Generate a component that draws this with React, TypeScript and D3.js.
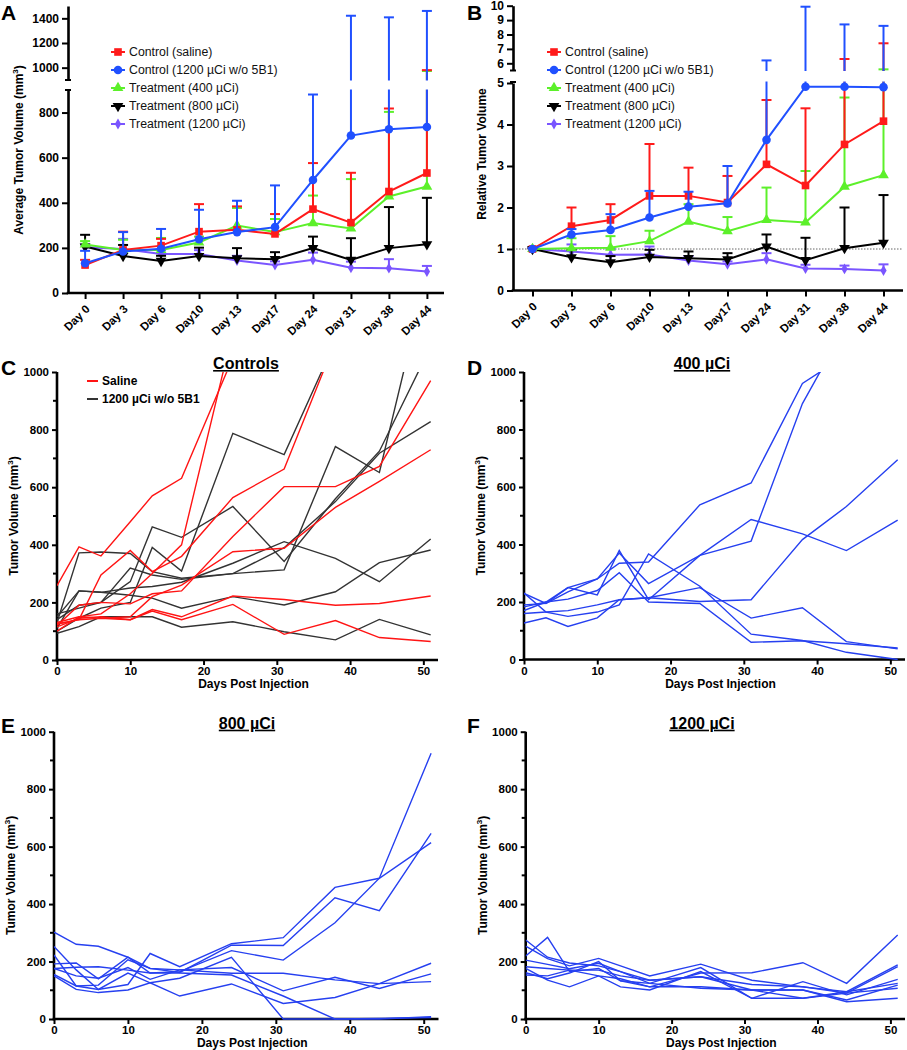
import { useEffect, useRef } from 'react';
import * as d3 from 'd3';

const FONT = "'Liberation Sans', Arial, Helvetica, sans-serif";

const days = ['Day 0', 'Day 3', 'Day 6', 'Day10', 'Day 13', 'Day17', 'Day 24', 'Day 31', 'Day 38', 'Day 44'];
const groupNames = ['Control (saline)', 'Control (1200 µCi w/o 5B1)', 'Treatment (400 µCi)', 'Treatment (800 µCi)', 'Treatment (1200 µCi)'];

// A: average tumour volume (mm3), mean and top of the error bar
const avgSaline = [124, 191, 210, 272, 280, 262, 372, 312, 450, 532];
const avgSalineTop = [147, 272, 240, 394, 384, 350, 576, 533, 818, 980];
const avgNoAb = [132, 184, 196, 238, 270, 292, 501, 698, 726, 736];
const avgNoAbTop = [187, 270, 284, 369, 409, 477, 880, 1421, 1408, 1460];
const avg400 = [215, 191, 191, 224, 299, 270, 310, 286, 428, 472];
const avg400Top = [230, 236, 244, 250, 377, 328, 432, 505, 803, 973];
const avg800 = [206, 164, 142, 164, 154, 150, 199, 147, 199, 216];
const avg800Top = [258, 213, 165, 201, 199, 181, 250, 243, 381, 422];
const avg1200 = [203, 195, 173, 173, 144, 124, 147, 112, 110, 95];
const avg1200Top = [215, 240, 190, 190, 165, 140, 179, 139, 150, 120];

// B: relative tumour volume
const relSaline = [1, 1.55, 1.7, 2.28, 2.28, 2.12, 3.04, 2.53, 3.52, 4.08];
const relSalineTop = [1.02, 2.0, 2.08, 3.53, 2.96, 2.76, 4.59, 4.39, 6.3, 7.39];
const relNoAb = [1, 1.35, 1.46, 1.76, 2.02, 2.1, 3.63, 4.91, 4.91, 4.9];
const relNoAbTop = [1.02, 1.48, 1.84, 2.4, 2.38, 3.0, 6.2, 9.93, 8.7, 8.6];
const rel400 = [1, 1.02, 1.03, 1.19, 1.66, 1.43, 1.7, 1.64, 2.5, 2.78];
const rel400Top = [1.02, 1.26, 1.31, 1.44, 2.08, 1.77, 2.48, 2.88, 4.65, 5.58];
const rel800 = [1, 0.8, 0.68, 0.81, 0.78, 0.75, 1.06, 0.73, 1.02, 1.15];
const rel800Top = [1.02, 0.98, 0.83, 0.98, 0.94, 0.9, 1.35, 1.27, 2.0, 2.3];
const rel1200 = [1, 0.94, 0.86, 0.87, 0.72, 0.63, 0.75, 0.53, 0.52, 0.48];
const rel1200Top = [1.02, 1.11, 1.0, 1.06, 0.83, 0.7, 0.9, 0.62, 0.6, 0.63];

// C-F: individual animals
const studyDays = [0, 3, 6, 10, 13, 17, 24, 31, 38, 44, 51];

const salineMice = [
  [258, 393, 361, 480, 570, 631, 1050],
  [100, 150, 160, 230, 300, 400, 1140],
  [125, 140, 295, 380, 307, 360, 564, 663, 1107],
  [120, 190, 200, 195, 230, 240, 429, 602, 602, 672, 970],
  [130, 150, 145, 150, 220, 260, 376, 388, 530, 620, 730],
  [115, 145, 150, 140, 175, 150, 222, 210, 190, 196, 222],
  [125, 140, 145, 140, 170, 140, 193, 89, 137, 78, 64],
];
const noAbMice = [
  [130, 372, 375, 370, 307, 284, 300, 313, 741, 651, 1391],
  [160, 180, 200, 272, 462, 426, 533, 342, 560, 725, 1088],
  [110, 240, 235, 250, 255, 270, 336, 411, 353, 272, 420],
  [140, 190, 200, 319, 295, 280, 300, 390, 550, 718, 828],
  [100, 145, 180, 200, 391, 309, 787, 713, 1107],
  [150, 240, 235, 225, 215, 180, 220, 191, 237, 338, 382],
  [93, 116, 150, 150, 150, 114, 133, 98, 70, 141, 87],
];
const mice400 = [
  [190, 195, 250, 280, 370, 264, 362, 412, 890, 1165],
  [230, 195, 235, 280, 335, 339, 538, 614, 960, 1060],
  [160, 165, 170, 190, 208, 215, 202, 208, 417, 532, 695],
  [183, 200, 250, 225, 379, 208, 362, 487, 437, 379, 485],
  [127, 145, 115, 145, 208, 215, 250, 144, 180, 62, 37],
  [231, 165, 150, 165, 190, 367, 255, 88, 66, 25, 0],
  [170, 200, 210, 240, 302, 200, 195, 60, 65, 55, 40],
];
const mice800 = [
  [192, 195, 140, 215, 160, 165, 238, 205, 335, 490, 925],
  [223, 115, 118, 206, 176, 162, 257, 256, 422, 377, 646],
  [252, 171, 103, 120, 228, 182, 262, 283, 458, 490, 614],
  [150, 103, 92, 101, 126, 80, 122, 54, 75, 123, 194],
  [176, 150, 142, 179, 138, 171, 179, 98, 145, 106, 157],
  [302, 260, 253, 215, 176, 171, 159, 159, 136, 123, 130],
  [155, 115, 103, 160, 126, 142, 215, 0, 0, 0, 8],
  [176, 180, 182, 170, 160, 160, 153, 80, 0, 2, 5],
];
const mice1200 = [
  [219, 284, 165, 176, 133, 112, 160, 161, 196, 124, 292],
  [275, 215, 195, 185, 165, 135, 147, 101, 101, 60, 72],
  [254, 210, 185, 211, 185, 150, 191, 135, 112, 95, 188],
  [205, 190, 175, 194, 165, 124, 179, 72, 72, 90, 182],
  [182, 176, 170, 150, 140, 112, 112, 101, 101, 66, 118],
  [176, 135, 112, 150, 112, 101, 165, 72, 130, 84, 138],
  [161, 140, 160, 200, 133, 124, 107, 101, 72, 95, 124],
  [153, 150, 170, 170, 150, 135, 147, 120, 112, 90, 107],
];

const RED = '#ff1a1a';
const BLUE = '#2050ff';
const GREEN = '#5cf02a';
const PURPLE = '#7a55ff';
const LINE_BLUE = '#2640f0';

const symbols = [
  { type: d3.symbolSquare, size: 58, rot: 0 },
  { type: d3.symbolCircle, size: 58, rot: 0 },
  { type: d3.symbolTriangle, size: 50, rot: 0 },
  { type: d3.symbolTriangle, size: 50, rot: 180 },
  { type: d3.symbolDiamond, size: 34, rot: 0 },
];
const groupColors = [RED, BLUE, GREEN, '#000', PURPLE];

function styleAxis(g: any, size: number) {
  g.select('.domain').attr('stroke', '#000').attr('stroke-width', 2.6);
  g.selectAll('.tick line').attr('stroke', '#000').attr('stroke-width', 2);
  g.selectAll('.tick text')
    .attr('font-family', FONT)
    .attr('font-weight', 'bold')
    .attr('font-size', size)
    .attr('fill', '#000');
}

function panelLetter(svg: any, letter: string, x: number, y: number) {
  svg.append('text')
    .attr('x', x).attr('y', y)
    .attr('font-family', FONT).attr('font-weight', 'bold').attr('font-size', 21)
    .text(letter);
}

function yTitle(svg: any, x: number, y: number, text: string, sup: boolean) {
  const t = svg.append('text')
    .attr('transform', `translate(${x},${y}) rotate(-90)`)
    .attr('text-anchor', 'middle')
    .attr('font-family', FONT).attr('font-weight', 'bold').attr('font-size', 12);
  t.append('tspan').text(text);
  if (sup) {
    t.append('tspan').attr('font-size', 8).attr('dy', -5).text('3');
    t.append('tspan').attr('dy', 5).text(')');
  }
}

function drawMeanPanel(svg: any, cfg: any) {
  const { x, yLo, yHi, series, breakY, dotted } = cfg;
  const y = (v: number) => (v <= yLo.domain()[1] ? yLo(v) : yHi(v));
  const g = svg.append('g');

  if (dotted) {
    g.append('line')
      .attr('x1', x.range()[0]).attr('x2', x.range()[1])
      .attr('y1', yLo(1)).attr('y2', yLo(1))
      .attr('stroke', '#555').attr('stroke-width', 0.9).attr('stroke-dasharray', '1.5,1.5');
  }

  // back to front: 1200, 800, 400, saline, no-antibody
  [4, 3, 2, 0, 1].forEach(i => {
    const s = series[i];
    const col = groupColors[i];
    const sg = g.append('g');
    days.forEach((d, k) => {
      const px = x(d);
      sg.append('line')
        .attr('x1', px).attr('x2', px)
        .attr('y1', y(s.values[k])).attr('y2', y(s.tops[k]))
        .attr('stroke', col).attr('stroke-width', 2);
      sg.append('line')
        .attr('x1', px - 5).attr('x2', px + 5)
        .attr('y1', y(s.tops[k])).attr('y2', y(s.tops[k]))
        .attr('stroke', col).attr('stroke-width', 2);
    });
    const line = d3.line<number>().x((_, k) => x(days[k])).y(v => y(v));
    sg.append('path').datum(s.values)
      .attr('fill', 'none').attr('stroke', col).attr('stroke-width', 2).attr('d', line);
    const sym = symbols[i];
    sg.selectAll('path.m').data(s.values).join('path')
      .attr('class', 'm')
      .attr('d', d3.symbol().type(sym.type).size(sym.size))
      .attr('transform', (v: number, k: number) => `translate(${x(days[k])},${y(v)}) rotate(${sym.rot})`)
      .attr('fill', col);
  });

  // axis break
  g.append('rect')
    .attr('x', x.range()[0] - 10).attr('width', x.range()[1] - x.range()[0] + 20)
    .attr('y', breakY[0] + 0.5).attr('height', breakY[1] - breakY[0] - 1)
    .attr('fill', '#fff');

  const x0 = x.range()[0];
  const axLo = svg.append('g').attr('transform', `translate(${x0},0)`)
    .call(d3.axisLeft(yLo).tickValues(cfg.loTicks).tickSize(6).tickSizeOuter(0).tickPadding(3).tickFormat(d3.format('d')));
  styleAxis(axLo, 12);
  const axHi = svg.append('g').attr('transform', `translate(${x0},0)`)
    .call(d3.axisLeft(yHi).tickValues(cfg.hiTicks).tickSize(6).tickSizeOuter(0).tickPadding(3).tickFormat(d3.format('d')));
  styleAxis(axHi, 12);
  [breakY[0], breakY[1]].forEach(by => {
    svg.append('line').attr('x1', x0 - 3).attr('x2', x0 + 3).attr('y1', by).attr('y2', by)
      .attr('stroke', '#000').attr('stroke-width', 2);
  });

  const axX = svg.append('g').attr('transform', `translate(0,${yLo(0)})`)
    .call(d3.axisBottom(x).tickSize(6).tickSizeOuter(0));
  styleAxis(axX, 11.5);
  axX.select('.domain').attr('d', `M${x0 - 1.3},0H${x.range()[1]}`);
  axX.selectAll('.tick text')
    .attr('x', 0).attr('y', 0).attr('dy', '0.35em')
    .attr('text-anchor', 'end')
    .attr('transform', 'translate(2,14) rotate(-45)');

  // legend
  const lg = svg.append('g');
  groupNames.forEach((name, i) => {
    const ly = cfg.legendY + i * 18;
    lg.append('line').attr('x1', cfg.legendX - 7).attr('x2', cfg.legendX + 7)
      .attr('y1', ly).attr('y2', ly).attr('stroke', groupColors[i]).attr('stroke-width', 2);
    const sym = symbols[i];
    lg.append('path')
      .attr('d', d3.symbol().type(sym.type).size(sym.size)())
      .attr('transform', `translate(${cfg.legendX},${ly}) rotate(${sym.rot})`)
      .attr('fill', groupColors[i]);
    lg.append('text').attr('x', cfg.legendX + 11).attr('y', ly).attr('dy', '0.35em')
      .attr('font-family', FONT).attr('font-size', 12.3).attr('fill', '#111')
      .text(name);
  });
}

function drawMicePanel(svg: any, cfg: any, id: string) {
  const x = d3.scaleLinear().domain([0, 52]).range([cfg.left, cfg.right]);
  const y = d3.scaleLinear().domain([0, 1000]).range([cfg.bottom, cfg.top]);

  const ay = svg.append('g').attr('transform', `translate(${cfg.left},0)`)
    .call(d3.axisLeft(y).tickValues([0, 200, 400, 600, 800, 1000]).tickSize(5).tickSizeOuter(0).tickPadding(3).tickFormat(d3.format('d')));
  styleAxis(ay, 11.5);
  ay.select('.domain').attr('d', `M0,${cfg.bottom + 1.3}V${cfg.top}`);
  svg.append('g').selectAll('line').data([100, 300, 500, 700, 900]).join('line')
    .attr('x1', cfg.left - 4).attr('x2', cfg.left).attr('y1', (v: number) => y(v)).attr('y2', (v: number) => y(v))
    .attr('stroke', '#000').attr('stroke-width', 2);

  const ax = svg.append('g').attr('transform', `translate(0,${cfg.bottom})`)
    .call(d3.axisBottom(x).tickValues([0, 10, 20, 30, 40, 50]).tickSize(5).tickSizeOuter(0).tickPadding(2).tickFormat(d3.format('d')));
  styleAxis(ax, 11.5);
  ax.select('.domain').attr('d', `M${cfg.left - 1.3},0H${cfg.right}`);

  svg.append('defs').append('clipPath').attr('id', id)
    .append('rect').attr('x', cfg.left).attr('y', cfg.top)
    .attr('width', cfg.right - cfg.left).attr('height', cfg.bottom - cfg.top + 1);

  const line = d3.line<number>().x((_, k) => x(studyDays[k])).y(v => y(v));
  const lg = svg.append('g').attr('clip-path', `url(#${id})`);
  cfg.groups.forEach((grp: any) => {
    lg.append('g').selectAll('path').data(grp.mice).join('path')
      .attr('d', (m: number[]) => line(m))
      .attr('fill', 'none').attr('stroke', grp.color).attr('stroke-width', 1.4);
  });

  svg.append('text')
    .attr('x', cfg.titleX).attr('y', cfg.top - 3)
    .attr('text-anchor', 'middle')
    .attr('font-family', FONT).attr('font-weight', 'bold').attr('font-size', 16)
    .attr('text-decoration', 'underline')
    .text(cfg.title);

  svg.append('text')
    .attr('x', (cfg.left + cfg.right) / 2 + 6).attr('y', cfg.bottom + 28)
    .attr('text-anchor', 'middle')
    .attr('font-family', FONT).attr('font-weight', 'bold').attr('font-size', 12)
    .text('Days Post Injection');

  yTitle(svg, cfg.left - 39, (cfg.top + cfg.bottom) / 2, 'Tumor Volume (mm', true);
}

export default function App() {
  const svgRef = useRef<SVGSVGElement>(null);

  useEffect(() => {
    const svg = d3.select(svgRef.current);
    svg.selectAll('*').remove();

    // Panel A
    drawMeanPanel(svg, {
      x: d3.scalePoint<string>().domain(days).range([68, 444]).padding(0.45),
      yLo: d3.scaleLinear().domain([0, 900]).range([293, 90]),
      yHi: d3.scaleLinear().domain([900, 1500]).range([80, 6]),
      loTicks: [0, 200, 400, 600, 800],
      hiTicks: [1000, 1200, 1400],
      breakY: [80, 90],
      series: [
        { values: avgSaline, tops: avgSalineTop },
        { values: avgNoAb, tops: avgNoAbTop },
        { values: avg400, tops: avg400Top },
        { values: avg800, tops: avg800Top },
        { values: avg1200, tops: avg1200Top },
      ],
      legendX: 118,
      legendY: 52,
      dotted: false,
    });
    panelLetter(svg, 'A', 1, 20);
    yTitle(svg, 23, 150, 'Average Tumor Volume (mm', true);

    // Panel B
    drawMeanPanel(svg, {
      x: d3.scalePoint<string>().domain(days).range([513, 903]).padding(0.5),
      yLo: d3.scaleLinear().domain([0, 5]).range([290.5, 83]),
      yHi: d3.scaleLinear().domain([5.5, 10]).range([70.5, 5.7]),
      loTicks: [0, 1, 2, 3, 4, 5],
      hiTicks: [6, 7, 8, 9, 10],
      breakY: [70.5, 82],
      series: [
        { values: relSaline, tops: relSalineTop },
        { values: relNoAb, tops: relNoAbTop },
        { values: rel400, tops: rel400Top },
        { values: rel800, tops: rel800Top },
        { values: rel1200, tops: rel1200Top },
      ],
      legendX: 554,
      legendY: 52,
      dotted: true,
    });
    panelLetter(svg, 'B', 467, 20);
    yTitle(svg, 486, 154, 'Relative Tumor Volume', false);

    // Panel C
    drawMicePanel(svg, {
      left: 57, right: 438, top: 372, bottom: 660,
      title: 'Controls', titleX: 246,
      groups: [
        { mice: noAbMice, color: '#333' },
        { mice: salineMice, color: '#ff1414' },
      ],
    }, 'clipC');
    panelLetter(svg, 'C', 1, 375);
    [['Saline', '#ff1414'], ['1200 µCi w/o 5B1', '#333']].forEach(([name, col], i) => {
      const ly = 381 + i * 18;
      svg.append('line').attr('x1', 87).attr('x2', 98).attr('y1', ly).attr('y2', ly)
        .attr('stroke', col).attr('stroke-width', 2);
      svg.append('text').attr('x', 102).attr('y', ly).attr('dy', '0.35em')
        .attr('font-family', FONT).attr('font-weight', 'bold').attr('font-size', 12)
        .text(name);
    });

    // Panel D
    drawMicePanel(svg, {
      left: 524, right: 905, top: 372, bottom: 659.5,
      title: '400 µCi', titleX: 702,
      groups: [{ mice: mice400, color: LINE_BLUE }],
    }, 'clipD');
    panelLetter(svg, 'D', 467, 375);

    // Panel E
    drawMicePanel(svg, {
      left: 54, right: 438.5, top: 731.7, bottom: 1019,
      title: '800 µCi', titleX: 247,
      groups: [{ mice: mice800, color: LINE_BLUE }],
    }, 'clipE');
    panelLetter(svg, 'E', 1, 733);

    // Panel F
    drawMicePanel(svg, {
      left: 525.7, right: 905, top: 731.7, bottom: 1019,
      title: '1200 µCi', titleX: 702,
      groups: [{ mice: mice1200, color: LINE_BLUE }],
    }, 'clipF');
    panelLetter(svg, 'F', 467, 733);
  }, []);

  return (
    <svg
      ref={svgRef}
      width={907}
      height={1050}
      style={{ position: 'absolute', left: 0, top: 0, background: '#fff' }}
    />
  );
}
